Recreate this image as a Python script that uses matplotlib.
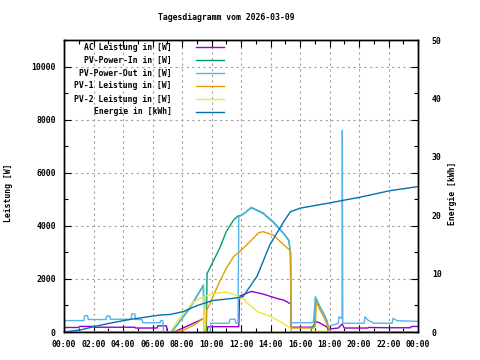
import matplotlib
matplotlib.use("Agg")
import matplotlib.pyplot as plt
import numpy as np

FONT = "DejaVu Sans Mono"
FS = 5.9
FW = "bold"

# ---------------- data (hours, W / kWh) ----------------
ac_t = [0, 1.0, 1.05, 2.0, 2.05, 4.8, 4.85, 6.3, 6.35, 6.95, 7.0, 7.5, 8.5, 9.5, 9.55, 9.7, 9.75, 11.85, 11.9, 12.7,
        13.5, 14.4, 14.9, 15.3, 15.37, 15.4, 16.75, 16.8, 17.1, 17.3, 17.8, 17.9, 18.6, 18.85, 18.9, 19.0, 20.6, 20.65,
        22.0, 23.5, 23.55, 24]
ac_v = [170, 170, 210, 210, 180, 180, 150, 150, 230, 230, 0, 10, 260, 515, 0, 0, 200, 200, 1350, 1530,
        1430, 1270, 1200, 1080, 1050, 180, 180, 150, 390, 350, 200, 110, 150, 300, 260, 150, 150, 170,
        160, 160, 210, 210]

pvin_t = [0, 7.3, 8.5, 9.45, 9.5, 9.65, 9.7, 10.1, 10.55, 11.0, 11.5, 11.8, 12.05, 12.7, 13.5, 14.2, 14.9, 15.25,
          15.35, 15.4, 16.75, 16.8, 17.0, 17.05, 17.35, 17.6, 17.85, 17.9, 24]
pvin_v = [0, 0, 870, 1760, 0, 0, 2200, 2650, 3150, 3780, 4220, 4370, 4400, 4680, 4470, 4130, 3700, 3440,
          2950, 0, 0, 200, 200, 1300, 950, 700, 390, 0, 0]

pvout_t = [0, 0.05, 1.35, 1.4, 1.6, 1.65, 2.85, 2.9, 3.1, 3.15, 4.55, 4.6, 4.8, 4.85, 5.3, 5.35, 6.5, 6.55, 6.7,
           6.75, 7.3, 8.5, 9.45, 9.5, 9.9, 9.95, 11.2, 11.25, 11.6, 11.65, 11.8, 11.85, 12.05, 12.7, 13.5, 14.2,
           14.9, 15.25, 15.35, 15.4, 16.9, 17.05, 17.35, 17.6, 17.85, 17.9, 18.6, 18.65, 18.85, 18.87, 18.9,
           19.0, 20.35, 20.4, 20.6, 21.0, 22.25, 22.3, 22.6, 24]
pvout_v = [490, 430, 430, 615, 615, 470, 470, 600, 600, 480, 480, 680, 680, 470, 470, 350, 350, 430, 430,
           0, 0, 890, 1770, 0, 0, 330, 330, 480, 480, 330, 330, 4340, 4400, 4700, 4490, 4150,
           3720, 3460, 2970, 350, 350, 1330, 950, 700, 390, 200, 330, 580, 500, 7600, 330,
           330, 330, 570, 450, 330, 330, 515, 425, 400]

pv1_t = [0, 7.4, 8.1, 8.8, 9.45, 9.5, 9.6, 9.65, 9.8, 10.1, 10.55, 11.0, 11.5, 11.9, 12.6, 13.2, 13.5, 14.2,
         14.9, 15.3, 15.37, 15.4, 16.9, 17.05, 17.1, 17.35, 17.6, 17.85, 18.1, 24]
pv1_v = [0, 0, 75, 260, 510, 0, 0, 800, 950, 1330, 1900, 2400, 2840, 3020, 3400, 3740, 3780, 3650,
         3280, 3090, 3000, 150, 150, 300, 1140, 830, 580, 260, 0, 0]

pv2_t = [0, 7.2, 7.9, 8.8, 9.45, 9.5, 9.55, 9.6, 9.8, 10.55, 11.0, 11.65, 11.85, 11.9, 12.15, 12.4, 12.6, 13.1,
         13.95, 14.65, 15.2, 15.35, 15.4, 16.9, 17.0, 17.9, 18.0, 24]
pv2_v = [0, 0, 580, 1140, 1330, 0, 0, 1350, 1390, 1480, 1500, 1390, 1350, 1270, 1270, 1100, 1020, 770,
         600, 390, 200, 150, 0, 0, 30, 30, 0, 0]

en_t = [0, 1.1, 2.0, 3.1, 4.25, 5.4, 6.5, 7.2, 8.1, 9.0, 10.1, 11.25, 11.85, 12.15, 13.1, 13.95, 14.9, 15.35,
        15.8, 16.0, 18.0, 20.1, 22.1, 24]
en_v = [0, 0.35, 0.9, 1.5, 2.05, 2.5, 2.9, 3.0, 3.5, 4.5, 5.4, 5.7, 5.9, 6.1, 9.6, 14.9, 18.9, 20.6,
        21.0, 21.2, 22.1, 23.1, 24.2, 24.9]

labels = ["AC Leistung in [W]", "PV-Power-In in [W]", "PV-Power-Out in [W]",
          "PV-1 Leistung in [W]", "PV-2 Leistung in [W]", "Energie in [kWh]"]
colors = ["#9400d3", "#009e73", "#56b4e9", "#e69f00", "#f0e442", "#0072b2"]
xtick_hours = list(range(0, 25, 2))
xtick_labels = ["%02d:00" % (h % 24) for h in xtick_hours]
title = "Tagesdiagramm vom 2026-03-09"

# ---------------- figure ----------------
fig = plt.figure(figsize=(4.8, 3.6), dpi=100)
ax = fig.add_axes([64 / 480, 1 - 332 / 360, 354 / 480, 292 / 360])
ax2 = ax.twinx()

series = [(ac_t, ac_v), (pvin_t, pvin_v), (pvout_t, pvout_v), (pv1_t, pv1_v), (pv2_t, pv2_v)]
for (t, v), c in zip(series, colors[:5]):
    ax.plot(t, v, color=c, lw=1.0)
ax2.plot(en_t, en_v, color=colors[5], lw=1.0)

ax.set_xlim(0, 24)
ax.set_ylim(0, 11000)
ax2.set_ylim(0, 50)

ax.set_xticks(xtick_hours)
ax.set_xticklabels(xtick_labels)
ax.set_xticks(range(0, 25), minor=True)
ax.set_yticks(range(0, 11000, 2000))
ax.set_yticks(range(0, 11001, 1000), minor=True)
ax2.set_yticks(range(0, 51, 10))

ax.grid(True, which="major", color="#a0a0a0", ls=(0, (2, 3)), lw=0.8)
ax.tick_params(which="major", direction="in", length=5, width=0.8, top=True, right=True, labelsize=FS, pad=6)
ax.tick_params(which="minor", direction="in", length=3, width=0.8, top=True, right=True)
ax2.tick_params(which="both", length=0, labelsize=FS, pad=10)
for lab in ax.get_xticklabels() + ax.get_yticklabels() + ax2.get_yticklabels():
    lab.set_family(FONT)
    lab.set_weight(FW)
for sp in list(ax.spines.values()) + list(ax2.spines.values()):
    sp.set_linewidth(1.0)

ax.set_ylabel("Leistung [W]", family=FONT, fontsize=FS, weight=FW)
ax.yaxis.set_label_coords(-0.143, 0.476)
ax2.set_ylabel("Energie [kWh]", family=FONT, fontsize=FS, weight=FW)
ax2.yaxis.set_label_coords(1.086, 0.476)
fig.text(226 / 480, 1 - 18 / 360, title, family=FONT, fontsize=FS, weight=FW, ha="center", va="center")

# legend (gnuplot style: right-aligned text, sample to the right)
for i, (lab, c) in enumerate(zip(labels, colors)):
    yp = 1 - (47 + 13 * i) / 360
    fig.text(172 / 480, yp, lab, family=FONT, fontsize=FS, weight=FW, ha="right", va="center")
    fig.add_artist(plt.Line2D([196 / 480, 224 / 480], [yp, yp], color=c, lw=1.0, transform=fig.transFigure))

fig.savefig("out.png", dpi=100)
